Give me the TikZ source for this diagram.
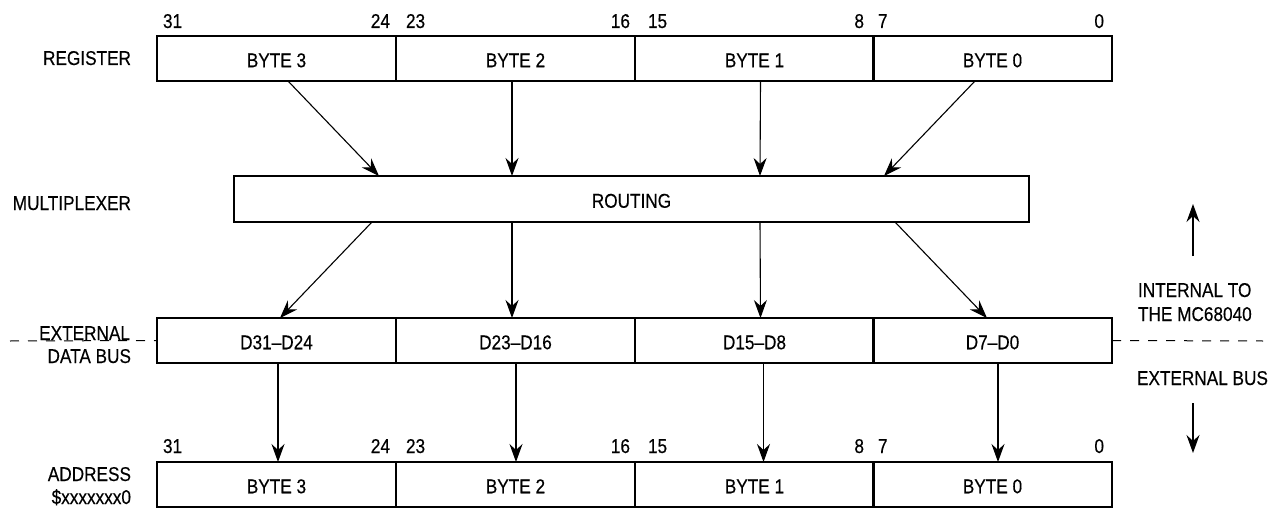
\documentclass[tikz,border=0pt]{standalone}
\usepackage{fontspec}
\setmainfont{Liberation Sans}[FakeStretch=0.86,FakeBold=0.3]
\usetikzlibrary{arrows.meta}
\begin{document}
\begin{tikzpicture}[x=1pt,y=-1pt,
  txt/.style={font=\fontsize{20}{24}\selectfont, inner sep=0pt, outer sep=0pt},
  cell/.style={txt, draw, line width=2.2pt, minimum width=239pt, minimum height=45pt,
    anchor=north west, text height=17.5pt, text depth=0pt},
  arr/.style={line width=1.1pt, -{Stealth[length=18pt,width=13pt,inset=6pt]}},
  bus/.style={line width=1pt, dash pattern=on 9pt off 9pt}]
\useasboundingbox (0,0) rectangle (1280,508);

% register
\node[cell] (r3) at (157,36) {BYTE 3};
\node[cell] (r2) at (396,36) {BYTE 2};
\node[cell] (r1) at (635,36) {BYTE 1};
\node[cell] (r0) at (873,36) {BYTE 0};
% multiplexer
\node[cell, minimum width=795pt, minimum height=46pt] (mux) at (234,176) {ROUTING};
% data bus
\node[cell] (d3) at (157,318) {D31--D24};
\node[cell] (d2) at (396,318) {D23--D16};
\node[cell] (d1) at (635,318) {D15--D8};
\node[cell] (d0) at (873,318) {D7--D0};
% address
\node[cell] (a3) at (157,462) {BYTE 3};
\node[cell] (a2) at (396,462) {BYTE 2};
\node[cell] (a1) at (635,462) {BYTE 1};
\node[cell] (a0) at (873,462) {BYTE 0};

% bit numbers
\foreach \y/\p in {28/t,453/b}{
  \node[txt, anchor=base west] (n31\p) at (163,\y) {31};
  \node[txt, anchor=base east] (n24\p) at (390,\y) {24};
  \node[txt, anchor=base west] (n23\p) at (406,\y) {23};
  \node[txt, anchor=base east] (n16\p) at (630,\y) {16};
  \node[txt, anchor=base west] (n15\p) at (648,\y) {15};
  \node[txt, anchor=base east] (n8\p) at (864,\y) {8};
  \node[txt, anchor=base west] (n7\p) at (878,\y) {7};
  \node[txt, anchor=base east] (n0\p) at (1104,\y) {0};
}

% left labels
\node[txt, anchor=base east] (lreg) at (131,65) {REGISTER};
\node[txt, anchor=base east] (lmux) at (131,210) {MULTIPLEXER};
\node[txt, anchor=base east] (lext) at (130,340) {EXTERNAL};
\node[txt, anchor=base east] (ldb) at (131,363) {DATA BUS};
\node[txt, anchor=base east] (ladr) at (131,481) {ADDRESS};
\node[txt, anchor=base east] (lx) at (131,504) {\$xxxxxxx0};

% right labels
\node[txt, anchor=base west] (lint1) at (1138,297) {INTERNAL TO};
\node[txt, anchor=base west] (lint2) at (1138,321) {THE MC68040};
\node[txt, anchor=base west] (lextb) at (1137,385) {EXTERNAL BUS};

% dashed boundary
\coordinate (dl) at (10,341);
\coordinate (dr) at (1263,341);
\draw[bus] (dl) -- (d3.west);
\draw[bus] (d0.east) -- (dr);

% register -> routing
\draw[arr] ([xshift=11.5pt]r3.south) -- ([xshift=-252.5pt]mux.north);
\draw[arr] ([xshift=-3.5pt]r2.south) -- ([xshift=-119.5pt]mux.north);
\draw[arr] ([xshift=6pt]r1.south) -- ([xshift=128.5pt]mux.north);
\draw[arr] ([xshift=-17.5pt]r0.south) -- ([xshift=252.5pt]mux.north);
% routing -> data bus
\draw[arr] ([xshift=-259.5pt]mux.south) -- ([xshift=3.5pt]d3.north);
\draw[arr] ([xshift=-119.5pt]mux.south) -- ([xshift=-3.5pt]d2.north);
\draw[arr] ([xshift=128.5pt]mux.south) -- ([xshift=6pt]d1.north);
\draw[arr] ([xshift=263.5pt]mux.south) -- ([xshift=-5.5pt]d0.north);
% data bus -> address
\draw[arr] ([xshift=1.5pt]d3.south) -- ([xshift=1.5pt]a3.north);
\draw[arr] ([xshift=0.5pt]d2.south) -- ([xshift=0.5pt]a2.north);
\draw[arr] ([xshift=9pt]d1.south) -- ([xshift=9pt]a1.north);
\draw[arr] ([xshift=5.5pt]d0.south) -- ([xshift=5.5pt]a0.north);

% direction arrows
\coordinate (up0) at (1193,256);
\coordinate (up1) at (1193,204);
\coordinate (dn0) at (1193,403);
\coordinate (dn1) at (1193,453);
\draw[arr] (up0) -- (up1);
\draw[arr] (dn0) -- (dn1);
\end{tikzpicture}
\end{document}
